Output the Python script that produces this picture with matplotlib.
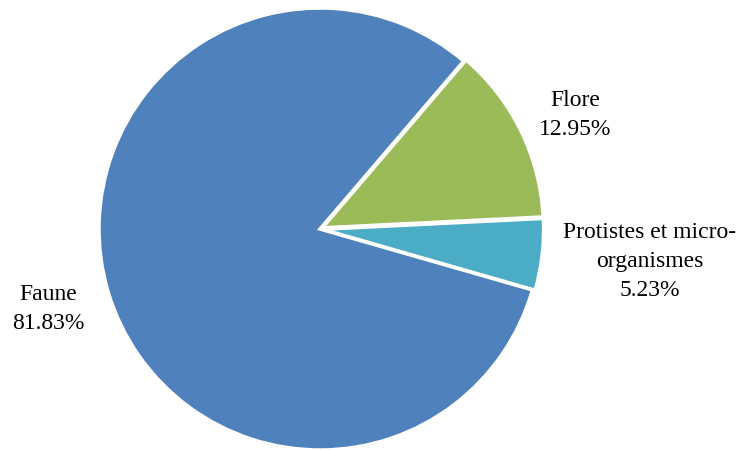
import matplotlib
matplotlib.use("Agg")
import matplotlib.pyplot as plt

categories = ["Faune", "Flore", "Protistes et micro-\norganismes"]
shares = [81.83, 12.95, 5.23]
colors = ["#4F81BD", "#9BBB59", "#4BACC6"]
explode = [0.0, 0.012, 0.012]

plt.rcParams["font.family"] = ["Liberation Serif", "DejaVu Serif"]

W, H = 741, 450
fig = plt.figure(figsize=(W / 100, H / 100), dpi=100)
cx, cy, r = 320, 229, 221
ax = fig.add_axes([(cx - r) / W, (H - cy - r) / H, 2 * r / W, 2 * r / H])

ax.pie(
    shares,
    colors=colors,
    explode=explode,
    startangle=-16,
    counterclock=False,
    radius=1.0,
    wedgeprops=dict(edgecolor="white", linewidth=2.5),
    frame=True,
)
ax.set_xlim(-1, 1)
ax.set_ylim(-1, 1)
ax.axis("off")

# label positions in pixel coordinates of the figure
label_pos = [(48, 309), (575, 115), (650, 262)]
for name, val, (px, py) in zip(categories, shares, label_pos):
    fig.text(px / W, 1 - py / H, f"{name}\n{val:.2f}%", ha="center", va="center",
             fontsize=17, linespacing=1.5, color="black")

fig.savefig("out.png", dpi=100)
